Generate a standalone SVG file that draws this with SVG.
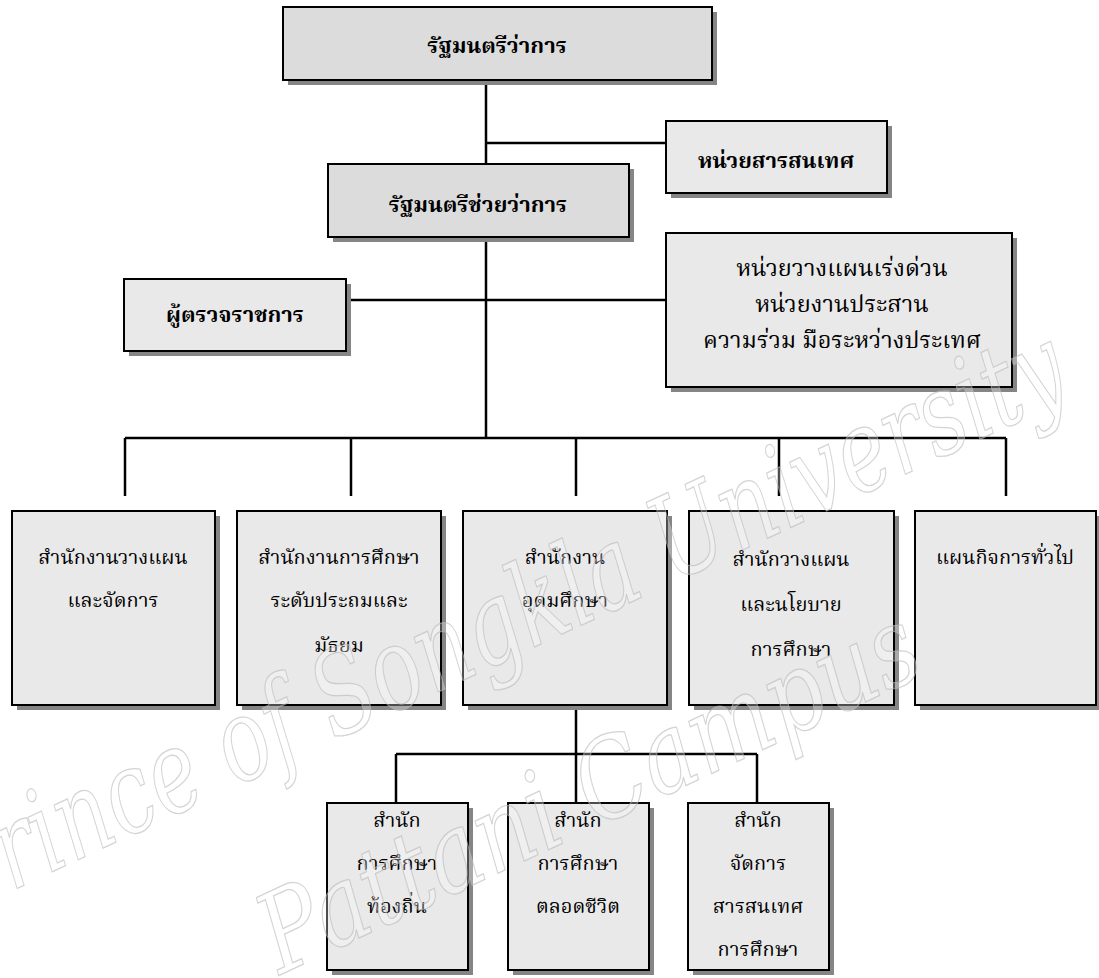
<svg xmlns="http://www.w3.org/2000/svg" width="1099" height="978" viewBox="0 0 1099 978">
<style>
.sh{fill:#858585}
.bx{stroke:#000;stroke-width:2}
.d{fill:#dcdcdc}
.l{fill:#e9e9e9}
.t{font-family:"Noto Serif Thai","Noto Sans Thai","Noto Sans",serif;font-size:20px;fill:#000;text-anchor:middle}
.r{font-size:23.5px}
.b{font-weight:bold;font-size:22px}
.c{stroke:#000;stroke-width:2.5;fill:none}
.wm{font-family:"DejaVu Serif",serif;font-style:italic;fill:#fff;fill-opacity:0.3;stroke:#b8b8b8;stroke-opacity:0.6;stroke-width:1.3}
</style>
<rect width="1099" height="978" fill="#fff"/>
<g id="connectors">
<path class="c" d="M486 80V164M486 143H666M486 237V438M346 300H666M125 438H1006M125 438V496M351 438V496M576 438V496M779 438V496M1006 438V496M576 705V803M396 754H757M396 754V803M757 754V803"/>
</g>
<g id="n1"><rect class="sh" x="288" y="12" width="429" height="73"/><rect class="bx d" x="283" y="7" width="429" height="73"/><text class="t b" x="497" y="53">รัฐมนตรีว่าการ</text></g>
<g id="n2"><rect class="sh" x="671" y="126" width="221" height="72"/><rect class="bx l" x="666" y="121" width="221" height="72"/><text class="t b" x="776" y="168">หน่วยสารสนเทศ</text></g>
<g id="n3"><rect class="sh" x="333" y="169" width="301" height="73"/><rect class="bx d" x="328" y="164" width="301" height="73"/><text class="t b" x="478" y="212">รัฐมนตรีช่วยว่าการ</text></g>
<g id="n4"><rect class="sh" x="129" y="284" width="222" height="72"/><rect class="bx l" x="124" y="279" width="222" height="72"/><text class="t b" x="235" y="322">ผู้ตรวจราชการ</text></g>
<g id="n5"><rect class="sh" x="671" y="238" width="346" height="154"/><rect class="bx l" x="666" y="233" width="346" height="154"/><text class="t r" x="842" y="276">หน่วยวางแผนเร่งด่วน</text><text class="t r" x="842" y="312">หน่วยงานประสาน</text><text class="t r" x="842" y="348">ความร่วม มือระหว่างประเทศ</text></g>
<g id="n6"><rect class="sh" x="17" y="516" width="203" height="194"/><rect class="bx l" x="12" y="511" width="203" height="194"/><text class="t" x="113" y="564">สำนักงานวางแผน</text><text class="t" x="113" y="607">และจัดการ</text></g>
<g id="n7"><rect class="sh" x="242" y="516" width="204" height="194"/><rect class="bx l" x="237" y="511" width="204" height="194"/><text class="t" x="339" y="564">สำนักงานการศึกษา</text><text class="t" x="339" y="607">ระดับประถมและ</text><text class="t" x="339" y="652">มัธยม</text></g>
<g id="n8"><rect class="sh" x="468" y="516" width="204" height="194"/><rect class="bx l" x="463" y="511" width="204" height="194"/><text class="t" x="565" y="564">สำนักงาน</text><text class="t" x="565" y="607">อุดมศึกษา</text></g>
<g id="n9"><rect class="sh" x="694" y="516" width="205" height="194"/><rect class="bx l" x="689" y="511" width="205" height="194"/><text class="t" x="791" y="566">สำนักวางแผน</text><text class="t" x="791" y="611">และนโยบาย</text><text class="t" x="791" y="656">การศึกษา</text></g>
<g id="n10"><rect class="sh" x="920" y="516" width="181" height="194"/><rect class="bx l" x="915" y="511" width="181" height="194"/><text class="t" x="1005" y="564">แผนกิจการทั่วไป</text></g>
<g id="n11"><rect class="sh" x="332" y="808" width="141" height="167"/><rect class="bx l" x="327" y="803" width="141" height="167"/><text class="t" x="397" y="827">สำนัก</text><text class="t" x="397" y="870">การศึกษา</text><text class="t" x="397" y="913">ท้องถิ่น</text></g>
<g id="n12"><rect class="sh" x="513" y="808" width="141" height="167"/><rect class="bx l" x="508" y="803" width="141" height="167"/><text class="t" x="578" y="827">สำนัก</text><text class="t" x="578" y="870">การศึกษา</text><text class="t" x="578" y="913">ตลอดชีวิต</text></g>
<g id="n13"><rect class="sh" x="693" y="808" width="141" height="167"/><rect class="bx l" x="688" y="803" width="141" height="167"/><text class="t" x="758" y="827">สำนัก</text><text class="t" x="758" y="870">จัดการ</text><text class="t" x="758" y="913">สารสนเทศ</text><text class="t" x="758" y="956">การศึกษา</text></g>
<g id="watermark">
<text class="wm" font-size="115" transform="translate(-40,915) rotate(-25)" textLength="1230" lengthAdjust="spacingAndGlyphs">Prince of Songkla University</text>
<text class="wm" font-size="110" transform="translate(280,975) rotate(-25)" textLength="715" lengthAdjust="spacingAndGlyphs">Pattani Campus</text>
</g>
</svg>
